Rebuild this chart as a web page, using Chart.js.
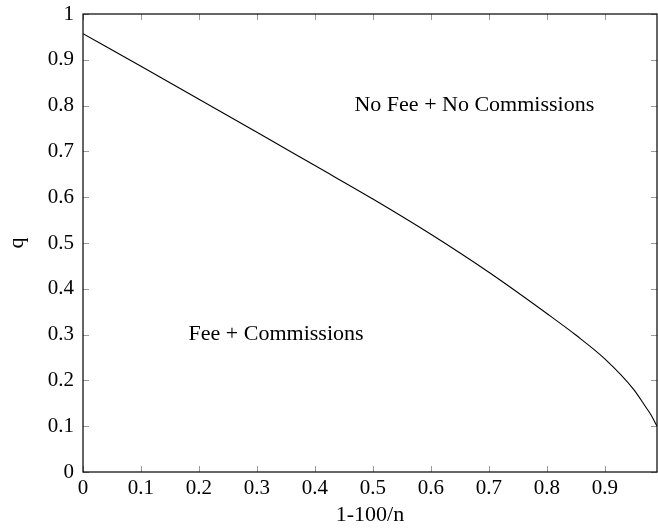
<!DOCTYPE html>
<html>
<head>
<meta charset="utf-8">
<script src="https://cdn.jsdelivr.net/npm/chart.js@4"></script>
<style>
    html, body { margin: 0; padding: 0; background: #fff; }
    #wrap { width: 658px; height: 529px; }
</style>
</head>
<body>
<div id="wrap"><canvas id="qChart"></canvas></div>
<script>
// Boundary curve q versus 1-100/n
const xValues = [0, 0.1, 0.2, 0.3, 0.4, 0.5, 0.6, 0.7, 0.8, 0.85, 0.9, 0.95, 0.97, 0.98, 0.99];
const qValues = [0.957, 0.886, 0.814, 0.742, 0.669, 0.596, 0.519, 0.436, 0.346, 0.299, 0.247, 0.180, 0.143, 0.124, 0.100];

// Region labels
const regionLabels = ['No Fee + No Commissions', 'Fee + Commissions'];
const regionX = [0.675, 0.333];
const regionY = [0.80, 0.30];

const serif = '"Liberation Serif", "DejaVu Serif", serif';

// Box frame + inward pgfplots-style tick marks + region labels
const framePlugin = {
    id: 'frame',
    afterDatasetsDraw(chart) {
        const { ctx, chartArea: a, scales: { x, y } } = chart;
        const len = 6;
        ctx.save();
        ctx.strokeStyle = '#9a9a9a';
        ctx.lineWidth = 1;
        ctx.beginPath();
        x.ticks.forEach(t => {
            const px = Math.round(x.getPixelForValue(t.value)) + 0.5;
            ctx.moveTo(px, a.bottom); ctx.lineTo(px, a.bottom - len);
            ctx.moveTo(px, a.top); ctx.lineTo(px, a.top + len);
        });
        y.ticks.forEach(t => {
            const py = Math.round(y.getPixelForValue(t.value)) + 0.5;
            ctx.moveTo(a.left, py); ctx.lineTo(a.left + len, py);
            ctx.moveTo(a.right, py); ctx.lineTo(a.right - len, py);
        });
        ctx.stroke();

        ctx.strokeStyle = '#000';
        ctx.lineWidth = 1.2;
        ctx.strokeRect(a.left, a.top, a.right - a.left, a.bottom - a.top);

        ctx.fillStyle = '#000';
        ctx.font = '22px ' + serif;
        ctx.textAlign = 'center';
        ctx.textBaseline = 'middle';
        regionLabels.forEach((txt, i) => {
            ctx.fillText(txt, x.getPixelForValue(regionX[i]), y.getPixelForValue(regionY[i]));
        });
        ctx.restore();
    }
};

const fmt = v => String(Number(v.toFixed(2)));

new Chart(document.getElementById('qChart'), {
    type: 'scatter',
    data: {
        datasets: [{
            data: xValues.map((v, i) => ({ x: v, y: qValues[i] })),
            showLine: true,
            borderColor: '#000',
            borderWidth: 1.1,
            pointRadius: 0,
            fill: false,
            cubicInterpolationMode: 'monotone'
        }]
    },
    options: {
        responsive: true,
        maintainAspectRatio: false,
        animation: false,
        layout: { padding: { top: 14, right: 1, left: 0, bottom: 0 } },
        plugins: { legend: { display: false }, tooltip: { enabled: false } },
        scales: {
            x: {
                type: 'linear',
                min: 0,
                max: 0.99,
                grid: { display: false, drawTicks: false },
                border: { display: false },
                ticks: {
                    stepSize: 0.1,
                    includeBounds: false,
                    color: '#000',
                    padding: 4,
                    maxRotation: 0,
                    font: { family: serif, size: 21 },
                    callback: fmt
                },
                title: {
                    display: true,
                    text: '1-100/n',
                    color: '#000',
                    padding: { top: 0, bottom: 1 },
                    font: { family: serif, size: 22 }
                },
                afterFit: s => { s.height = 57; s.paddingLeft = 0; s.paddingRight = 0; }
            },
            y: {
                type: 'linear',
                min: 0,
                max: 1,
                grid: { display: false, drawTicks: false },
                border: { display: false },
                ticks: {
                    stepSize: 0.1,
                    color: '#000',
                    padding: 9,
                    font: { family: serif, size: 21 },
                    callback: fmt
                },
                title: {
                    display: true,
                    text: 'q',
                    color: '#000',
                    padding: { top: 4, bottom: 4 },
                    font: { family: serif, size: 22 }
                },
                afterFit: s => { s.width = 83; s.paddingTop = 0; s.paddingBottom = 0; }
            }
        }
    },
    plugins: [framePlugin]
});
</script>
</body>
</html>
